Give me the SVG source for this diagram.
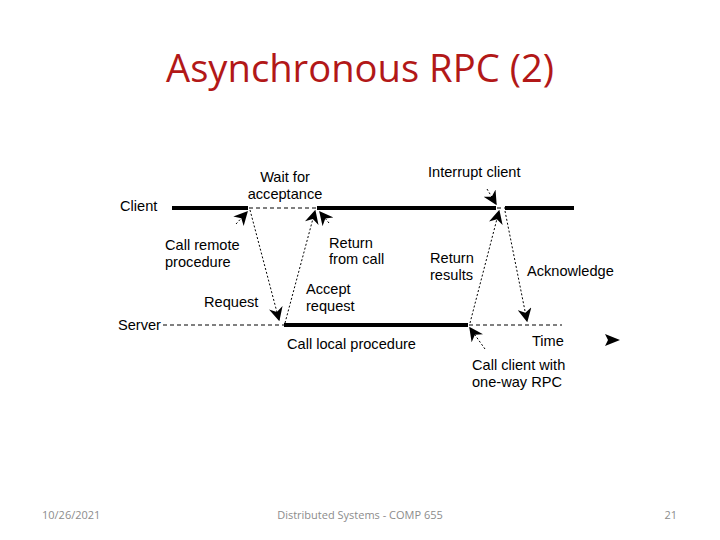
<svg xmlns="http://www.w3.org/2000/svg" width="720" height="540" viewBox="0 0 720 540">
<style>
.t{font-family:"Liberation Sans",Arial,sans-serif;font-size:14.6px;fill:#000}
.f{font-family:"Open Sans","Liberation Sans",sans-serif;font-size:11px;fill:#8c8c8c}
.thick{stroke:#000;stroke-width:4;fill:none}
.dash{stroke:#000;stroke-width:1;stroke-dasharray:4,3;fill:none}
.dot{stroke:#000;stroke-width:1;stroke-dasharray:2,2;fill:none}
</style>
<defs>
<marker id="ah" viewBox="0 0 10 10" refX="9" refY="5" markerWidth="14" markerHeight="14" markerUnits="userSpaceOnUse" orient="auto">
<path d="M0,0 L10,5 L0,10 L3,5 Z" fill="#000"/>
</marker>
</defs>
<rect width="720" height="540" fill="#fff"/>
<text x="360" y="82" text-anchor="middle" font-family="Open Sans,Liberation Sans,sans-serif" font-size="38" fill="#B21818" textLength="388" lengthAdjust="spacingAndGlyphs">Asynchronous RPC (2)</text>

<g id="client-line">
<line class="thick" x1="172" y1="208" x2="248" y2="208"/>
<line class="dash" x1="249" y1="208" x2="317" y2="208"/>
<line class="thick" x1="317" y1="208" x2="496" y2="208"/>
<line class="dash" x1="497" y1="208" x2="505" y2="208"/>
<line class="thick" x1="505" y1="208" x2="574" y2="208"/>
<text class="t" x="120" y="211">Client</text>
</g>
<g id="server-line">
<line class="dash" x1="163" y1="325" x2="284" y2="325"/>
<line class="thick" x1="284" y1="325" x2="468" y2="325"/>
<line class="dash" x1="469" y1="325" x2="562" y2="325"/>
<text class="t" x="118" y="330">Server</text>
</g>
<g id="time">
<path d="M605,334 L620,340 L605,346 L608,340 Z" fill="#000"/>
<text class="t" x="532" y="346">Time</text>
</g>

<g id="connectors">
<line class="dot" x1="250" y1="210" x2="279" y2="320" marker-end="url(#ah)"/>
<line class="dot" x1="285" y1="323" x2="315" y2="211" marker-end="url(#ah)"/>
<line class="dot" x1="470" y1="323" x2="499" y2="211" marker-end="url(#ah)"/>
<line class="dot" x1="505" y1="211" x2="527" y2="321" marker-end="url(#ah)"/>
<line class="dot" x1="236" y1="224" x2="247" y2="212" marker-end="url(#ah)"/>
<line class="dot" x1="329" y1="223" x2="320" y2="212" marker-end="url(#ah)"/>
<line class="dot" x1="487" y1="189" x2="496" y2="204" marker-end="url(#ah)"/>
<line class="dot" x1="485" y1="349" x2="470" y2="328" marker-end="url(#ah)"/>
</g>

<g id="labels">
<text class="t" x="285" y="182" text-anchor="middle">Wait for</text>
<text class="t" x="285" y="199" text-anchor="middle">acceptance</text>
<text class="t" x="428" y="177">Interrupt client</text>
<text class="t" x="165" y="250">Call remote</text>
<text class="t" x="165" y="267">procedure</text>
<text class="t" x="329" y="248">Return</text>
<text class="t" x="329" y="264">from call</text>
<text class="t" x="430" y="263">Return</text>
<text class="t" x="430" y="280">results</text>
<text class="t" x="527" y="276">Acknowledge</text>
<text class="t" x="204" y="307">Request</text>
<text class="t" x="306" y="294">Accept</text>
<text class="t" x="306" y="311">request</text>
<text class="t" x="287" y="349">Call local procedure</text>
<text class="t" x="472" y="370">Call client with</text>
<text class="t" x="472" y="387">one-way RPC</text>
</g>

<g id="footer">
<text class="f" x="42" y="519">10/26/2021</text>
<text class="f" x="360" y="519" text-anchor="middle">Distributed Systems - COMP 655</text>
<text class="f" x="677" y="519" text-anchor="end">21</text>
</g>
</svg>
